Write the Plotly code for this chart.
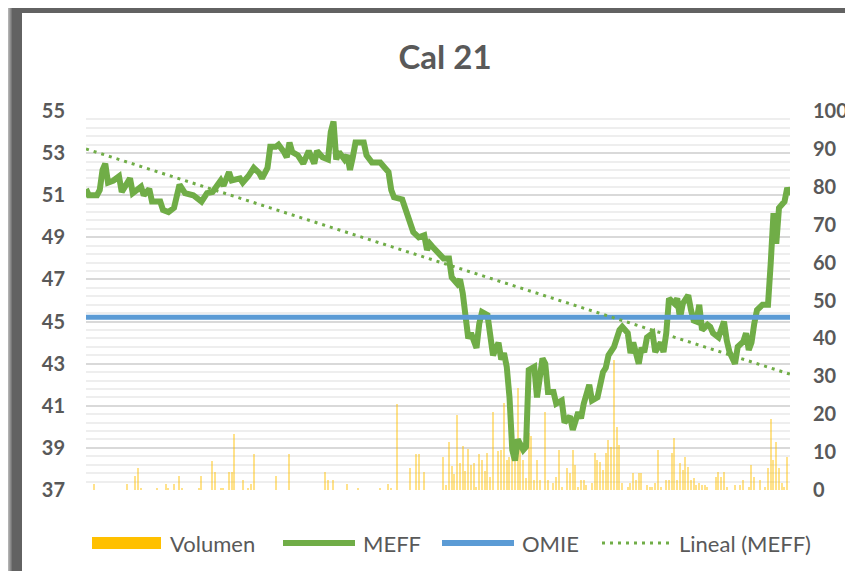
import plotly.graph_objects as go

# ---------------- data ----------------
dia_meff = [0, 1, 4, 5, 6, 7, 8, 10, 12, 13, 16, 17, 20, 21, 23, 24, 27, 28, 30, 32, 34, 36, 39, 42, 44, 46, 49, 50, 52, 53,
            56, 57, 59, 61, 63, 64, 66, 67, 69, 70, 72, 73, 74, 75, 77, 79, 81, 83, 84, 86, 88, 89, 90, 91, 92, 94, 95, 96, 97, 98,
            101, 102, 104, 107, 108, 110, 111, 112, 115, 116, 118, 119, 121, 123, 124, 125, 126, 128, 130, 132, 133, 135, 136, 137, 138, 139, 140, 142, 143, 144,
            146, 147, 148, 150, 151, 152, 153, 154, 155, 156, 157, 159, 160, 161, 163, 164, 166, 167, 168, 170, 171, 173, 174, 176, 177, 179, 180, 181, 183, 184,
            186, 188, 189, 190, 191, 192, 194, 195, 197, 198, 199, 201, 202, 203, 204, 206, 207, 209, 210, 211, 212, 214, 215, 216, 217, 219, 220, 221, 222, 223,
            224, 226, 227, 228, 230, 231, 232, 233, 234, 236, 237, 239, 240, 241, 242, 243, 244, 246, 248, 249, 250, 251, 252, 254, 255, 256]
meff = [51.3, 51.0, 51.0, 51.25, 52.2, 52.5, 51.6, 51.7, 51.9, 51.15, 51.8, 51.1, 51.4, 51.0, 51.3, 50.7, 50.7, 50.3, 50.2, 50.4, 51.5, 51.1, 51.0, 50.7, 51.1, 51.15, 51.7, 51.45, 52.1, 51.7,
        51.8, 51.6, 51.9, 52.3, 52.05, 51.8, 52.3, 53.3, 53.3, 53.4, 53.05, 52.8, 53.5, 53.05, 52.9, 52.5, 53.1, 52.5, 53.1, 52.8, 52.7, 54.0, 54.5, 52.7, 53.05, 52.7, 52.9, 52.2, 52.8, 53.5,
        53.5, 52.9, 52.55, 52.55, 52.4, 52.1, 51.25, 50.9, 50.8, 50.4, 49.8, 49.25, 49.0, 49.1, 48.4, 48.7, 48.55, 48.25, 48.0, 48.0, 47.1, 46.8, 47.0, 46.35, 45.2, 44.2, 44.45, 43.75, 44.9, 45.45,
        45.3, 44.25, 43.4, 44.0, 43.2, 43.5, 42.85, 41.4, 38.9, 38.4, 39.4, 38.9, 39.05, 42.7, 42.85, 41.4, 43.25, 43.0, 41.65, 41.65, 41.1, 41.25, 40.2, 40.5, 39.85, 40.7, 40.4, 41.1, 42.0, 41.25,
        41.4, 42.6, 42.8, 43.4, 43.65, 43.8, 44.6, 44.75, 44.45, 43.5, 44.0, 43.0, 43.75, 43.55, 44.25, 44.45, 43.55, 44.0, 43.55, 44.45, 46.1, 45.85, 46.1, 45.15, 45.85, 46.25, 45.55, 45.05, 45.0, 45.8,
        44.6, 44.85, 44.75, 44.45, 44.25, 44.6, 45.0, 44.1, 43.55, 43.0, 43.8, 44.05, 44.45, 43.65, 44.0, 44.9, 45.55, 45.8, 45.8, 47.8, 50.15, 48.7, 50.4, 50.7, 51.35, 51.0]

vol_dia = [3, 15, 18, 19, 20, 26, 29, 30, 32, 34, 35, 41, 42, 46, 47, 49, 50, 52, 53, 54, 57, 59, 60, 61, 69, 74, 87, 88, 90, 95,
           99, 107, 110, 111, 113, 118, 120, 121, 123, 130, 131, 132, 133, 134, 135, 136, 137, 138, 139, 140, 141, 142, 143, 144, 145, 146, 147, 148, 150, 151,
           152, 153, 154, 155, 156, 157, 158, 159, 160, 161, 162, 163, 164, 165, 167, 168, 170, 171, 172, 173, 175, 176, 177, 178, 179, 180, 181, 182, 184, 185,
           186, 187, 188, 189, 190, 191, 192, 193, 194, 195, 197, 198, 199, 200, 201, 202, 204, 205, 206, 207, 208, 209, 211, 212, 213, 214, 215, 216, 217, 218,
           219, 220, 221, 222, 223, 224, 225, 226, 229, 230, 231, 232, 233, 236, 238, 239, 241, 242, 243, 245, 247, 248, 249, 250, 251, 252, 253, 254, 255]
volumen = [1.6, 1.6, 3.7, 5.8, 0.6, 0.6, 1.6, 0.6, 1.6, 3.7, 0.6, 0.6, 3.7, 7.6, 4.7, 0.6, 0.6, 4.7, 4.7, 14.8, 2.6, 0.6, 1.6, 9.5, 3.7, 9.5, 4.7, 2.6, 2.6, 1.6,
           0.6, 0.6, 1.6, 0.6, 22.7, 5.8, 9.5, 9.5, 4.7, 8.8, 1.3, 12.6, 6.3, 4.2, 19.8, 7.1, 11.6, 5.0, 10.8, 6.7, 7.1, 0.9, 9.5, 8.0, 5.0, 9.7, 3.5, 20.7, 10.3, 10.5,
           22.9, 7.8, 8.6, 8.8, 11.4, 26.9, 11.4, 8.0, 3.1, 15.0, 14.3, 2.6, 7.9, 2.6, 20.7, 2.6, 1.8, 3.5, 10.6, 0.9, 5.7, 4.4, 10.6, 6.6, 0.9, 2.6, 2.6, 1.3, 1.8, 9.7,
           7.9, 7.5, 5.3, 9.7, 13.2, 11.4, 34.3, 16.7, 11.9, 1.8, 0.9, 1.8, 4.4, 2.6, 4.4, 4.4, 1.3, 0.9, 0.9, 1.8, 10.6, 0.9, 2.6, 2.6, 9.7, 13.6, 2.6, 7.0, 5.3, 8.8,
           6.2, 2.6, 3.1, 1.3, 1.8, 1.3, 1.3, 0.9, 3.5, 4.8, 3.5, 4.8, 0.9, 1.3, 1.3, 2.6, 0.9, 6.6, 3.5, 2.6, 0.9, 5.7, 18.7, 7.9, 12.6, 5.7, 1.8, 0.9, 8.8]

omie_dias = [0, 256]
omie = [45.2, 45.2]
lineal_dias = [0, 256]
lineal = [53.2, 42.5]

ticks_precio = [37, 39, 41, 43, 45, 47, 49, 51, 53, 55]
ticks_volumen = [0, 10, 20, 30, 40, 50, 60, 70, 80, 90, 100]

titulo = "Cal 21"
leyenda = ["Volumen", "MEFF", "OMIE", "Lineal (MEFF)"]

# ---------------- styling ----------------
# the page body has an 8px margin: the figure starts at window (8, 8)
OFF = 8
WIN_W, WIN_H = 853, 579
W, H = WIN_W - OFF, WIN_H - 2 * OFF
# plot area in window pixels: x 86..790, y 111..490
PX0, PX1, PY0, PY1 = 86, 790, 111, 490
L, T = PX0 - OFF, PY0 - OFF
R = W - L - (PX1 - PX0)
B = H - T - (PY1 - PY0)
PW, PH = PX1 - PX0, PY1 - PY0
GRAY = "#595959"
FONT = "Lato"
GREEN = "#70ad47"
BLUE = "#5b9bd5"
GOLD = "#ffc000"


def fx(px):  # window px -> paper x
    return (px - PX0) / PW


def fy(py):  # window px -> paper y
    return (PY1 - py) / PH


fig = go.Figure()
fig.add_trace(go.Bar(x=vol_dia, y=volumen, yaxis="y", width=0.45,
                     marker=dict(color=GOLD, line=dict(width=0)), opacity=0.45,
                     name=leyenda[0], showlegend=False))
fig.add_trace(go.Scatter(x=dia_meff, y=meff, yaxis="y2", mode="lines",
                         line=dict(color=GREEN, width=6), name=leyenda[1], showlegend=False))
fig.add_trace(go.Scatter(x=omie_dias, y=omie, yaxis="y2", mode="lines",
                         line=dict(color=BLUE, width=5), name=leyenda[2], showlegend=False))
fig.add_trace(go.Scatter(x=lineal_dias, y=lineal, yaxis="y2", mode="lines",
                         line=dict(color=GREEN, width=3, dash="3px,5px"), name=leyenda[3], showlegend=False))

tickfont = dict(family=FONT, size=20, color=GRAY, weight="bold")

shapes = []


def rect(x0, x1, y0, y1, color):
    shapes.append(dict(type="rect", xref="paper", yref="paper",
                       x0=fx(x0), x1=fx(x1), y0=fy(y1), y1=fy(y0),
                       fillcolor=color, line=dict(width=0), layer="above"))


# frame shadow (left and top), window pixels
dark = 98
for i in range(10):
    t = (i + 1) / 10
    g = round(255 - (255 - dark) * t ** 1.4)
    rect(3 + i, 4 + i, 3 + i * 0.5, WIN_H, f"rgb({g},{g},{g})")
for j in range(6):
    t = (j + 1) / 6
    g = round(255 - (255 - dark) * t ** 1.4)
    rect(13 - (6 - j) * 1.5, WIN_W, 2 + j, 3 + j, f"rgb({g},{g},{g})")
rect(13, 22, 8, WIN_H, f"rgb({dark},{dark},{dark})")
rect(13, WIN_W, 8, 13, f"rgb({dark},{dark},{dark})")

# manual legend (window pixels)
ly = 543
rect(92, 161, 537, 549, GOLD)
shapes.append(dict(type="line", xref="paper", yref="paper", x0=fx(283), x1=fx(355), y0=fy(ly), y1=fy(ly),
                   line=dict(color=GREEN, width=6)))
shapes.append(dict(type="line", xref="paper", yref="paper", x0=fx(442), x1=fx(514), y0=fy(ly), y1=fy(ly),
                   line=dict(color=BLUE, width=6)))
shapes.append(dict(type="line", xref="paper", yref="paper", x0=fx(602), x1=fx(670), y0=fy(ly), y1=fy(ly),
                   line=dict(color=GREEN, width=3, dash="3px,5px")))

annotations = []
for txt, px in zip(leyenda, [168, 361, 520, 677]):
    annotations.append(dict(text=txt, xref="paper", yref="paper", x=fx(px), y=fy(ly),
                            xanchor="left", yanchor="middle", showarrow=False,
                            font=dict(family=FONT, size=22, color=GRAY)))

fig.update_layout(
    width=W, height=H, autosize=False,
    margin=dict(l=L, r=R, t=T, b=B, pad=0),
    paper_bgcolor="white", plot_bgcolor="white",
    showlegend=False, bargap=0,
    title=dict(text=titulo, xref="container", yref="container",
               x=(445 - OFF) / W, y=1 - (57 - OFF) / H,
               xanchor="center", yanchor="middle",
               font=dict(family=FONT, size=33, color=GRAY, weight="bold")),
    xaxis=dict(range=[0, 256], showticklabels=False, showgrid=False, zeroline=False,
               showline=False, ticks="", automargin=False),
    yaxis=dict(range=[0, 100], side="right", tickmode="array", tickvals=ticks_volumen,
               showgrid=False, zeroline=False, showline=False, ticks="", automargin=False,
               tickfont=tickfont, ticklabelstandoff=22),
    yaxis2=dict(range=[37, 55], overlaying="y", side="left", tickmode="array", tickvals=ticks_precio,
                showgrid=True, gridcolor="#d9d9d9", gridwidth=2, automargin=False,
                minor=dict(tick0=37, dtick=0.4, showgrid=True, gridcolor="#eeeeee", gridwidth=2, ticks=""),
                zeroline=False, showline=False, ticks="",
                tickfont=tickfont, ticklabelstandoff=20),
    shapes=shapes,
    annotations=annotations,
)

fig.write_html("out.html")
